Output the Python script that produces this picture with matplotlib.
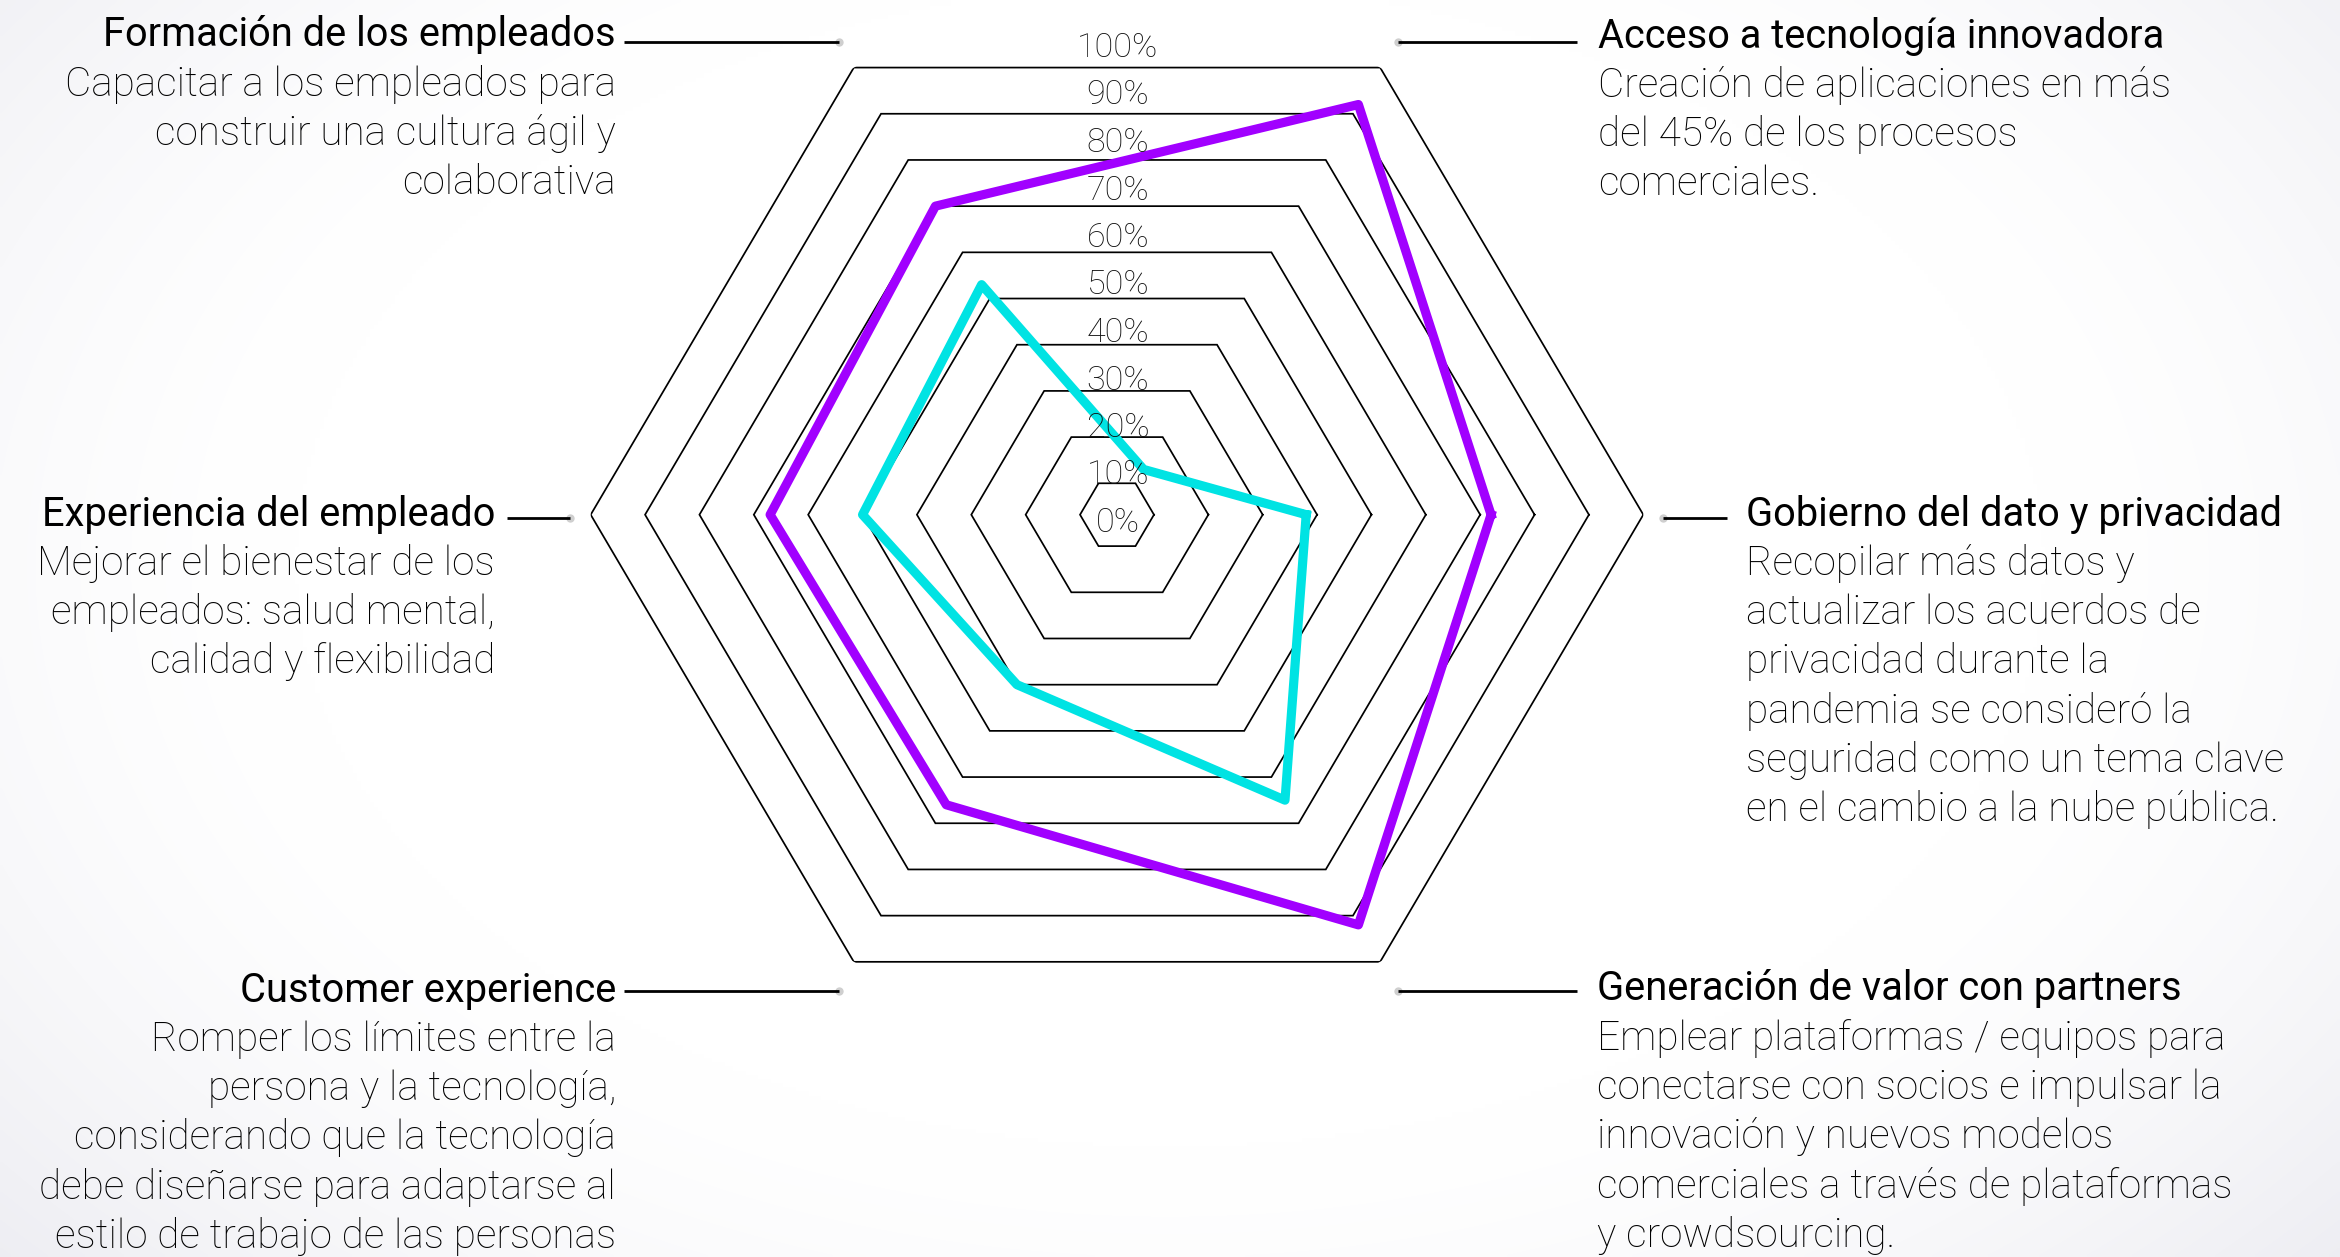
import numpy as np
import matplotlib
matplotlib.use("Agg")
import matplotlib.pyplot as plt
from matplotlib import font_manager

W, H, DPI = 2340, 1257, 100

# Axes of the radar, counter-clockwise starting from the right-hand vertex
categories = [
    "Gobierno del dato y privacidad",
    "Acceso a tecnología innovadora",
    "Formación de los empleados",
    "Experiencia del empleado",
    "Customer experience",
    "Generación de valor con partners",
]
angles_deg = [0, 60, 120, 180, 240, 300]

purple_values = [72, 92, 70, 67, 66, 92]
cyan_values = [38, 13, 53, 50, 40, 65]

ring_values = [10, 20, 30, 40, 50, 60, 70, 80, 90, 100]
tick_labels = ["0%", "10%", "20%", "30%", "40%", "50%",
               "60%", "70%", "80%", "90%", "100%"]

descriptions = [
    ["Recopilar más datos y", "actualizar los acuerdos de",
     "privacidad durante la", "pandemia se consideró la",
     "seguridad como un tema clave", "en el cambio a la nube pública."],
    ["Creación de aplicaciones en más", "del 45% de los procesos",
     "comerciales."],
    ["Capacitar a los empleados para", "construir una cultura ágil y",
     "colaborativa"],
    ["Mejorar el bienestar de los", "empleados: salud mental,",
     "calidad y flexibilidad"],
    ["Romper los límites entre la", "persona y la tecnología,",
     "considerando que la tecnología", "debe diseñarse para adaptarse al",
     "estilo de trabajo de las personas"],
    ["Emplear plataformas / equipos para", "conectarse con socios e impulsar la",
     "innovación y nuevos modelos", "comerciales a través de plataformas",
     "y crowdsourcing."],
]

PURPLE = "#A100FF"
CYAN = "#00E3E3"

# ---- fonts -------------------------------------------------------------
names = {f.name for f in font_manager.fontManager.ttflist}
FAMILY = "Roboto" if "Roboto" in names else "DejaVu Sans"
light_ok = any(f.name == FAMILY and (f.weight in (300, "light") or
               (isinstance(f.weight, int) and f.weight <= 300))
               for f in font_manager.fontManager.ttflist)
LIGHT = "light" if light_ok else "normal"
plt.rcParams["font.family"] = [FAMILY, "DejaVu Sans"]

fig = plt.figure(figsize=(W / DPI, H / DPI), dpi=DPI)
fig.patch.set_facecolor("white")

# soft vignette behind everything
bg = fig.add_axes([0, 0, 1, 1], zorder=-10)
yy, xx = np.mgrid[0:1:300j, 0:1:560j]
d = np.sqrt(((xx - 0.5) / 0.5) ** 2 + ((yy - 0.45) / 0.62) ** 2)
shade = np.clip((d - 0.75) / 0.6, 0, 1) ** 1.5
img = np.dstack([1 - 0.07 * shade, 1 - 0.07 * shade, 1 - 0.05 * shade])
bg.imshow(img, extent=[0, 1, 0, 1], aspect="auto", interpolation="bilinear")
bg.set_axis_off()

# ---- radar axes (slightly squashed vertically) ------------------------
cx, cy = 1117.0, 514.7
rx, ry = 526.3, 516.3
ax = fig.add_axes([(cx - rx) / W, 1 - (cy + ry) / H, 2 * rx / W, 2 * ry / H],
                  projection="polar")
ax.set_aspect("auto")
ax.set_ylim(3.2, 100)
ax.set_xticks([])
ax.set_yticks([])
ax.grid(False)
ax.spines["polar"].set_visible(False)
ax.patch.set_visible(False)

theta = np.deg2rad(angles_deg + angles_deg[:1])
for v in ring_values:
    ax.plot(theta, [v] * len(theta), color="black", lw=1.25, zorder=2,
            solid_joinstyle="miter")

ax.plot(theta, purple_values + purple_values[:1], color=PURPLE, lw=6.6,
        solid_joinstyle="round", zorder=4, clip_on=False)
ax.plot(theta, cyan_values + cyan_values[:1], color=CYAN, lw=6.6,
        solid_joinstyle="round", zorder=4, clip_on=False)

# ---- overlay in pixel coordinates for labels and leaders --------------
ov = fig.add_axes([0, 0, 1, 1], zorder=5)
ov.set_xlim(0, W)
ov.set_ylim(H, 0)
ov.set_axis_off()
ov.patch.set_visible(False)

for k, lab in enumerate(tick_labels):
    ov.text(1118, 523 - 47.5 * k, lab, ha="center", va="center",
            fontsize=24.5, color="#111111", fontweight=LIGHT, zorder=1)

# leader line segments: (x_text_end, x_dot, y)
leaders = [
    (1727, 1663, 517.7),
    (1577, 1398, 41.7),
    (624, 839, 41.7),
    (507, 570, 517.7),
    (624, 839, 990.5),
    (1577, 1398, 990.5),
]
for xt, xd, y in leaders:
    ov.plot([xt, xd], [y, y], color="black", lw=2.0, solid_capstyle="butt",
            zorder=3)
    ov.plot([xd], [y], "o", ms=6, color="#cfcfcf", mec="none", zorder=2)

# text blocks: (x anchor, align, title y)
blocks = [
    (1746, "left", 514),
    (1598, "left", 36),
    (616, "right", 35),
    (495, "right", 514),
    (616, "right", 990),
    (1597, "left", 989),
]
LS = 49.3
for (x, ha, y0), title, lines in zip(blocks, categories, descriptions):
    ov.text(x, y0, title, ha=ha, va="center", fontsize=28.7, color="black")
    for i, ln in enumerate(lines):
        ov.text(x, y0 + LS * (i + 1), ln, ha=ha, va="center", fontsize=29.2,
                color="#000000", fontweight=LIGHT)

fig.savefig("out.png", dpi=DPI)
